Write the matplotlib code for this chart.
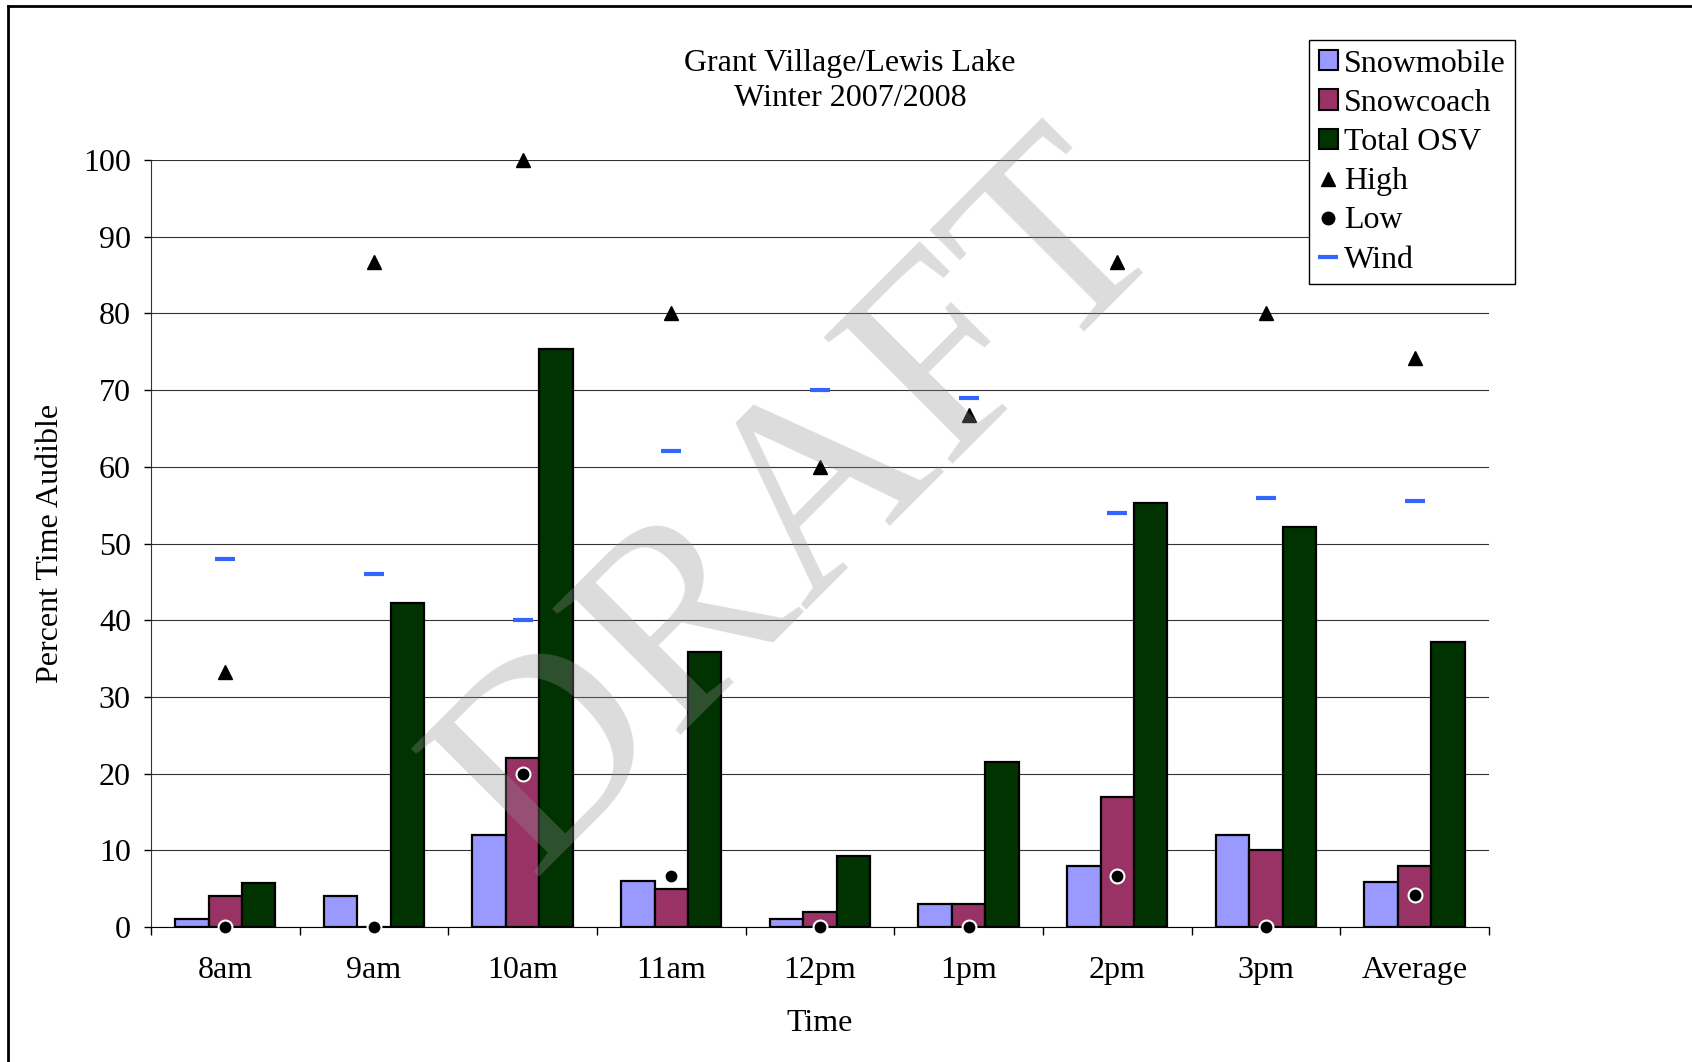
import matplotlib
matplotlib.use("Agg")
import matplotlib.pyplot as plt
from matplotlib.lines import Line2D
from matplotlib.patches import Patch
import numpy as np

# Daten
categories = ["8am", "9am", "10am", "11am", "12pm", "1pm", "2pm", "3pm", "Average"]
snowmobile = [1, 4, 12, 6, 1, 3, 8, 12, 5.9]
snowcoach = [4, 0, 22, 5, 2, 3, 17, 10, 7.9]
total_osv = [5.8, 42.2, 75.3, 35.8, 9.2, 21.5, 55.3, 52.1, 37.1]
high = [33.3, 86.7, 100, 80, 60, 66.7, 86.7, 80, 74.2]
low = [0, 0, 20, 6.7, 0, 0, 6.7, 0, 4.2]
wind = [48, 46, 40, 62, 70, 69, 54, 56, 55.6]

plt.rcParams['font.family'] = ['Liberation Serif', 'DejaVu Serif']
fs = 23

fig = plt.figure(figsize=(16.92, 10.62), dpi=100)
ax = fig.add_axes([0.0892, 0.1271, 0.7908, 0.7222])

x = np.arange(len(categories))
w = 0.225
bar_kw = dict(edgecolor='black', linewidth=1.6, zorder=3)
ax.bar(x - w, snowmobile, w, color='#9999ff', **bar_kw)
ax.bar(x, snowcoach, w, color='#993366', **bar_kw)
ax.bar(x + w, total_osv, w, color='#003300', **bar_kw)

ax.plot(x, high, linestyle='none', marker='^', markersize=10, color='black', zorder=5, clip_on=False)
ax.plot(x, low, linestyle='none', marker='o', markersize=10, markerfacecolor='black',
        markeredgecolor='white', markeredgewidth=1.5, zorder=5, clip_on=False)
ax.plot(x, wind, linestyle='none', marker='_', markersize=14, markeredgewidth=3,
        color='#3366ff', zorder=5)

ax.set_xlim(-0.5, len(categories) - 0.5)
ax.set_ylim(0, 100)
ax.set_yticks(np.arange(0, 101, 10))
ax.yaxis.grid(True, color='#333333', linewidth=0.8, zorder=0)
ax.set_axisbelow(True)

ax.set_xticks(x)
ax.set_xticklabels(categories)
ax.set_xticks(np.arange(-0.5, len(categories), 1), minor=True)
ax.tick_params(axis='x', which='major', length=0, pad=21, labelsize=fs)
ax.tick_params(axis='x', which='minor', length=5.4, width=1, direction='out')
ax.tick_params(axis='y', length=5.4, width=1, pad=9, labelsize=fs)

for s in ['top', 'right']:
    ax.spines[s].set_visible(False)
ax.spines['left'].set_color('#333333')
ax.spines['bottom'].set_color('black')

ax.set_xlabel("Time", fontsize=fs, labelpad=17)
ax.set_ylabel("Percent Time Audible", fontsize=fs, labelpad=13)

fig.text(0.5025, 0.924, "Grant Village/Lewis Lake\nWinter 2007/2008", ha='center', va='center',
         fontsize=fs, linespacing=1.27)

handles = [
    Patch(facecolor='#9999ff', edgecolor='black', linewidth=1.5),
    Patch(facecolor='#993366', edgecolor='black', linewidth=1.5),
    Patch(facecolor='#003300', edgecolor='black', linewidth=1.5),
    Line2D([], [], linestyle='none', marker='^', markersize=10, color='black'),
    Line2D([], [], linestyle='none', marker='o', markersize=9, color='black'),
    Line2D([], [], linestyle='none', marker='_', markersize=14, markeredgewidth=3, color='#3366ff'),
]
labels = ["Snowmobile", "Snowcoach", "Total OSV", "High", "Low", "Wind"]
leg = fig.legend(handles, labels, loc='upper left', bbox_to_anchor=(1309 / 1692, 1 - 40 / 1062),
                 fontsize=fs, frameon=True, fancybox=False, edgecolor='black', framealpha=1,
                 handlelength=0.6, handleheight=0.6, handletextpad=0.2, labelspacing=0.32,
                 borderpad=0.3, borderaxespad=0)
leg.get_frame().set_linewidth(1.0)

# Wasserzeichen
fig.text(851 / 1692, 1 - 556 / 1062, "DRAFT", fontsize=199, color='#919191', alpha=0.32,
         rotation=45, rotation_mode='anchor', ha='center', va='baseline', zorder=10)

# Rahmen oben und links
fig.add_artist(Line2D([8 / 1692, 8 / 1692], [0, 1 - 6 / 1062], color='black', linewidth=2))
fig.add_artist(Line2D([8 / 1692, 1], [1 - 6 / 1062, 1 - 6 / 1062], color='black', linewidth=2))

fig.savefig("out.png", dpi=100)
